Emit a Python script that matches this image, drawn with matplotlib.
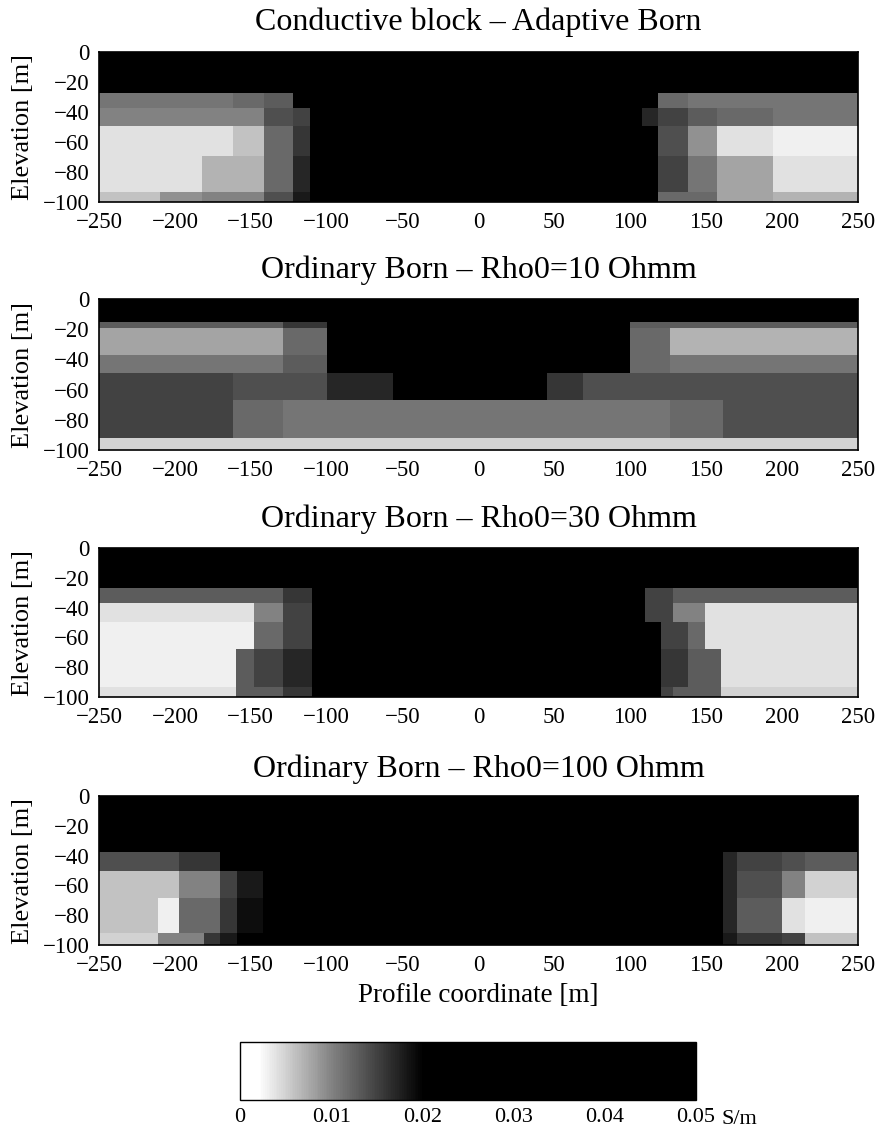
import matplotlib
matplotlib.use("Agg")
import matplotlib.pyplot as plt
import numpy as np
from matplotlib.colors import LinearSegmentedColormap

# conductivity in mS/m, rows top -> bottom, columns left -> right
titles = ["Conductive block \u2013 Adaptive Born",
          "Ordinary Born \u2013 Rho0=10 Ohmm",
          "Ordinary Born \u2013 Rho0=30 Ohmm",
          "Ordinary Born \u2013 Rho0=100 Ohmm"]

x_edges_1 = [-250, -210, -182, -162, -141, -122, -111, 108, 118, 138, 157, 194, 250]
z_edges_1 = [0, -27, -37, -49, -69, -93, -100]
cond_1 = [
    [40, 40, 40, 40, 40, 40, 40, 40, 40, 40, 40, 40],
    [11, 11, 11, 12, 13, 30, 40, 40, 12, 11, 11, 11],
    [10, 10, 10, 10, 14, 15, 40, 17, 15, 13, 12, 11],
    [4, 4, 4, 6, 12, 16, 40, 30, 14, 9, 4, 3],
    [4, 4, 7, 7, 12, 17, 40, 25, 15, 11, 8, 4],
    [6, 9, 10, 10, 14, 18, 40, 25, 12, 12, 8, 7],
]

x_edges_2 = [-250, -162, -129, -100, -56, 45, 69, 100, 126, 161, 250]
z_edges_2 = [0, -15, -19, -37, -49, -67, -92, -100]
cond_2 = [
    [40, 40, 40, 40, 40, 40, 40, 40, 40, 40],
    [13, 13, 16, 40, 40, 40, 40, 13, 13, 13],
    [8, 8, 12, 40, 40, 40, 40, 12, 7, 7],
    [11, 11, 13, 40, 40, 40, 40, 12, 11, 11],
    [15, 14, 14, 17, 40, 16, 14, 14, 14, 14],
    [15, 12, 11, 11, 11, 11, 11, 11, 12, 14],
    [5, 5, 5, 5, 5, 5, 5, 5, 5, 5],
]

x_edges_3 = [-250, -160, -148, -129, -110, 110, 120, 128, 138, 149, 160, 250]
z_edges_3 = [0, -27, -37, -49.5, -68, -93, -100]
cond_3 = [
    [40, 40, 40, 40, 40, 40, 40, 40, 40, 40, 40],
    [13, 13, 13, 16, 40, 15, 15, 13, 13, 13, 13],
    [4, 4, 10, 15, 40, 15, 15, 10, 10, 4, 4],
    [3, 3, 12, 15, 40, 30, 15, 15, 12, 4, 4],
    [3, 13, 15, 17, 40, 30, 16, 16, 13, 13, 4],
    [4, 13, 13, 16, 40, 30, 15, 13, 13, 13, 5],
]

x_edges_4 = [-250, -211, -197, -181, -170, -159, -142, 161, 170, 200, 215, 250]
z_edges_4 = [0, -37.5, -50, -68.5, -92, -100]
cond_4 = [
    [40, 40, 40, 40, 40, 40, 40, 40, 40, 40, 40],
    [14, 14, 16, 16, 22, 30, 40, 17, 15, 14, 13],
    [6, 6, 10, 10, 15, 18, 40, 17, 14, 10, 5],
    [6, 3, 12, 12, 16, 19, 40, 17, 13, 4, 3],
    [5, 10, 10, 16, 18, 25, 40, 18, 16, 15, 6],
]

x_ticks = [-250, -200, -150, -100, -50, 0, 50, 100, 150, 200, 250]
z_ticks = [0, -20, -40, -60, -80, -100]
cbar_ticks = [0, 0.01, 0.02, 0.03, 0.04, 0.05]
cbar_labels = ["0", "0.01", "0.02", "0.03", "0.04", "0.05"]

panels = [(x_edges_1, z_edges_1, cond_1), (x_edges_2, z_edges_2, cond_2),
          (x_edges_3, z_edges_3, cond_3), (x_edges_4, z_edges_4, cond_4)]

plt.rcParams['font.family'] = ['Liberation Serif', 'DejaVu Serif']

# white at 0, black from about 0.02 S/m up
cmap = LinearSegmentedColormap.from_list(
    "cond", [(0.0, "white"), (0.04, "white"), (0.2, "#828282"), (0.4, "black"), (1.0, "black")])

W, H = 880, 1131
fig = plt.figure(figsize=(W / 100, H / 100), dpi=100)

# axes boxes in pixels: left, top, right, bottom
boxes = [(99, 52, 858, 202), (99, 299, 858, 450), (99, 548, 858, 697), (99, 796, 858, 945)]
title_pads = [16, 15, 15, 14]

for i, ((xe, ze, c), box) in enumerate(zip(panels, boxes)):
    l, t, r, b = box
    ax = fig.add_axes([l / W, 1 - b / H, (r - l) / W, (b - t) / H])
    mesh = ax.pcolormesh(xe, ze, np.array(c) / 1000.0, cmap=cmap, vmin=0, vmax=0.05,
                         shading='flat')
    ax.set_xlim(-250, 250)
    ax.set_ylim(-100, 0)
    ax.set_xticks(x_ticks)
    ax.set_yticks(z_ticks)
    ax.tick_params(length=0, labelsize=16.5)
    ax.tick_params(axis='x', pad=7)
    ax.tick_params(axis='y', pad=7)
    ax.set_title(titles[i], fontsize=23, pad=title_pads[i])
    ax.set_ylabel("Elevation [m]", fontsize=19)
    ax.yaxis.set_label_coords(-0.085, 0.5)
    for s in ax.spines.values():
        s.set_linewidth(1.2)
    if i == 3:
        ax.set_xlabel("Profile coordinate [m]", fontsize=19.5, labelpad=5)

cax = fig.add_axes([240 / W, 1 - 1100 / H, 456 / W, 58 / H])
cb = fig.colorbar(mesh, cax=cax, orientation='horizontal', ticks=cbar_ticks)
cb.ax.set_xticklabels(cbar_labels)
cb.ax.tick_params(length=0, labelsize=16, pad=6)
cb.outline.set_linewidth(1.0)
cax.text(1.055, -0.33, "S/m", transform=cax.transAxes, fontsize=16, va='center', ha='left')

fig.savefig("out.png", dpi=100)
